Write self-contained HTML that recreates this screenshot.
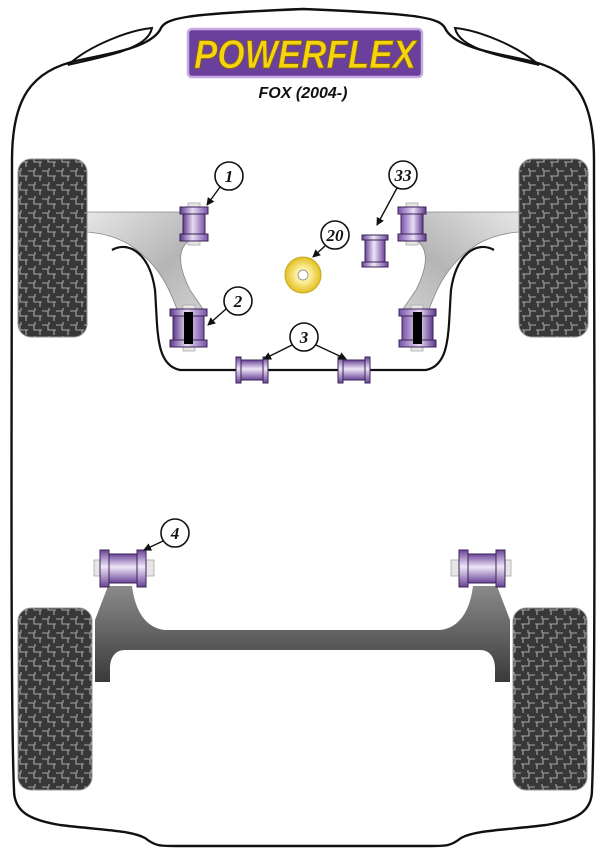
<!DOCTYPE html>
<html><head><meta charset="utf-8"><style>
html,body{margin:0;padding:0;background:#fff;width:607px;height:855px;overflow:hidden}
svg{display:block}
</style></head><body>
<svg width="607" height="855" viewBox="0 0 607 855" xmlns="http://www.w3.org/2000/svg">
<defs>
<pattern id="tread" width="14" height="14" patternUnits="userSpaceOnUse">
<rect width="14" height="14" fill="#383838"/>
<path d="M0 3 H6 V8 H12 V13 M7 0 V3 M12 8 H14" stroke="#a8a8a8" stroke-width="1.1" fill="none"/>
</pattern>
<linearGradient id="purp" x1="0" y1="0" x2="1" y2="0">
<stop offset="0" stop-color="#5e3a8c"/><stop offset=".45" stop-color="#e8dcf4"/><stop offset="1" stop-color="#7a52a8"/>
</linearGradient>
<linearGradient id="purpv" x1="0" y1="0" x2="0" y2="1">
<stop offset="0" stop-color="#6a4498"/><stop offset=".45" stop-color="#efe6f8"/><stop offset="1" stop-color="#6a4498"/>
</linearGradient>
<linearGradient id="arm" x1="0" y1="0" x2="1" y2="1">
<stop offset="0" stop-color="#e6e6e6"/><stop offset=".6" stop-color="#b5b5b5"/><stop offset="1" stop-color="#d0d0d0"/>
</linearGradient>
<linearGradient id="beam" x1="0" y1="0" x2="0" y2="1">
<stop offset="0" stop-color="#8a8a8a"/><stop offset="1" stop-color="#3a3a3a"/>
</linearGradient>
<radialGradient id="wash"><stop offset=".3" stop-color="#fff6b0"/><stop offset="1" stop-color="#e3c020"/></radialGradient>
<marker id="ah" markerWidth="8" markerHeight="8" refX="7" refY="4" orient="auto" markerUnits="userSpaceOnUse"><path d="M0 0 L8 4 L0 8 Z" fill="#111"/></marker>
<g id="bv">
<rect x="8" y="-4" width="12" height="42" fill="#e6e6e6" stroke="#aaa" stroke-width=".8"/>
<rect x="0" y="0" width="28" height="7" fill="url(#purp)" stroke="#3a2356"/>
<rect x="3" y="7" width="22" height="20" fill="url(#purp)" stroke="#3a2356"/>
<rect x="0" y="27" width="28" height="7" fill="url(#purp)" stroke="#3a2356"/>
</g>
<g id="bh">
<rect x="-6" y="10" width="60" height="16" fill="#e6e6e6" stroke="#aaa" stroke-width=".8"/>
<rect x="0" y="0" width="9" height="37" fill="url(#purpv)" stroke="#3a2356"/>
<rect x="9" y="4" width="28" height="29" fill="url(#purpv)" stroke="#3a2356"/>
<rect x="37" y="0" width="9" height="37" fill="url(#purpv)" stroke="#3a2356"/>
</g>
<g id="bs">
<rect x="0" y="0" width="5" height="26" fill="url(#purpv)" stroke="#3a2356"/>
<rect x="5" y="3" width="22" height="20" fill="url(#purpv)" stroke="#3a2356"/>
<rect x="27" y="0" width="5" height="26" fill="url(#purpv)" stroke="#3a2356"/>
</g>
<g id="front">
<rect x="18" y="159" width="69" height="178" rx="13" fill="url(#tread)" stroke="#999"/>
<path d="M87 212 H190 V240 C175 250 180 270 190 290 L205 312 H178 C170 290 160 265 130 245 C115 236 100 233 87 232 Z" fill="url(#arm)" stroke="#888" stroke-width=".8"/>
<path d="M112 250 C130 240 150 255 155 290 C158 330 155 365 180 370 H303" fill="none" stroke="#111" stroke-width="2.2"/>
<use href="#bv" x="180" y="207"/>
<g transform="translate(170,309)">
<rect x="13" y="-4" width="12" height="46" fill="#e6e6e6" stroke="#aaa" stroke-width=".8"/>
<rect x="0" y="0" width="37" height="7" fill="url(#purp)" stroke="#3a2356"/>
<rect x="3" y="7" width="31" height="24" fill="url(#purp)" stroke="#3a2356"/>
<rect x="0" y="31" width="37" height="7" fill="url(#purp)" stroke="#3a2356"/>
<rect x="14" y="3" width="9" height="32" fill="#000"/>
</g>
<use href="#bs" x="236" y="357"/>
</g>
<g id="rear">
<rect x="18" y="608" width="74" height="182" rx="13" fill="url(#tread)" stroke="#999"/>
<path d="M108 586 H132 C135 610 145 628 165 630 H303 V650 H125 C115 650 110 658 110 668 V682 H95 V620 Z" fill="url(#beam)"/>
<use href="#bh" x="100" y="550"/>
</g>
</defs>

<!-- body outline -->
<path d="M14 790 C10 700 12 300 12 160 C12 100 30 70 80 60 C120 52 150 46 160 30 C165 18 180 14 303 9 C426 14 441 18 446 30 C456 46 486 52 526 60 C576 70 594 100 594 160 C594 300 596 700 592 790" fill="none" stroke="#111" stroke-width="2.4"/>
<path d="M14 790 C14 812 30 820 60 825 C100 830 130 830 145 838 C155 846 160 846 175 846 H431 C446 846 451 846 461 838 C476 830 506 830 546 825 C576 820 592 812 592 790" fill="none" stroke="#111" stroke-width="2.4"/>
<path d="M68 65 C90 45 130 30 152 28 C150 38 140 45 120 52 C100 58 80 62 68 65 Z" fill="none" stroke="#111" stroke-width="2"/>
<path d="M539 65 C517 45 477 30 455 28 C457 38 467 45 487 52 C507 58 527 62 539 65 Z" fill="none" stroke="#111" stroke-width="2"/>

<!-- logo -->
<rect x="188" y="29" width="234" height="48" rx="4" fill="#6b3f9c" stroke="#c6a9e0" stroke-width="2.5"/>
<text x="305" y="68" text-anchor="middle" font-family="Liberation Sans, sans-serif" font-weight="bold" font-style="italic" font-size="40" fill="#f5d40f" stroke="#8a6a00" stroke-width=".8" textLength="222" lengthAdjust="spacingAndGlyphs">POWERFLEX</text>
<text x="303" y="98" text-anchor="middle" font-family="Liberation Sans, sans-serif" font-weight="bold" font-style="italic" font-size="16" fill="#111">FOX (2004-)</text>

<use href="#front"/>
<use href="#front" transform="translate(606,0) scale(-1,1)"/>
<use href="#rear"/>
<use href="#rear" transform="translate(605,0) scale(-1,1)"/>

<!-- washer 20 -->
<circle cx="303" cy="275" r="18" fill="url(#wash)" stroke="#c9a820"/>
<circle cx="303" cy="275" r="5" fill="#fff" stroke="#999"/>
<!-- part 33 -->
<use href="#bs" transform="translate(362,267) rotate(-90)"/>

<!-- callouts -->
<g font-family="Liberation Serif, serif" font-weight="bold" font-style="italic" font-size="17" text-anchor="middle" fill="#111">
<g fill="#fff" stroke="#111" stroke-width="1.6">
<circle cx="229" cy="176" r="14"/><circle cx="238" cy="301" r="14"/><circle cx="304" cy="337" r="14"/>
<circle cx="335" cy="235" r="14"/><circle cx="403" cy="175" r="14"/><circle cx="175" cy="533" r="14"/>
</g>
<text x="229" y="182">1</text><text x="238" y="307">2</text><text x="304" y="343">3</text>
<text x="335" y="241">20</text><text x="403" y="181">33</text><text x="175" y="539">4</text>
<g stroke="#111" stroke-width="1.4" fill="none" marker-end="url(#ah)">
<path d="M220 187 L207 205"/><path d="M226 309 L208 325"/>
<path d="M292 345 L264 359"/><path d="M316 345 L346 359"/>
<path d="M325 246 L313 257"/><path d="M397 188 L377 225"/>
<path d="M163 541 L144 550"/>
</g>
</g>
</svg>
</body></html>
